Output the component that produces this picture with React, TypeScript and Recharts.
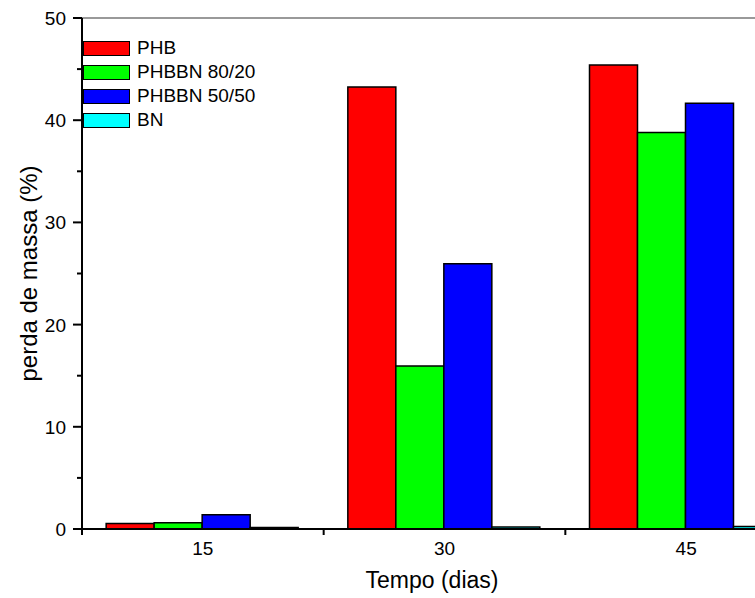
import { Bar, BarChart, Legend, ReferenceLine, XAxis, YAxis } from 'recharts'

const days = ['15', '30', '45']
const phb = [0.53, 43.25, 45.4]
const phbbn8020 = [0.62, 15.95, 38.8]
const phbbn5050 = [1.4, 25.95, 41.65]
const bn = [0.15, 0.2, 0.25]
const yTicks = [0, 5, 10, 15, 20, 25, 30, 35, 40, 45, 50]

const series = [
	{ key: 'phb', name: 'PHB', color: '#FF0000' },
	{ key: 'phbbn8020', name: 'PHBBN 80/20', color: '#00FF00' },
	{ key: 'phbbn5050', name: 'PHBBN 50/50', color: '#0000FF' },
	{ key: 'bn', name: 'BN', color: '#00FFFF' },
]

const data = days.map((d, i) => ({
	dias: d,
	phb: phb[i],
	phbbn8020: phbbn8020[i],
	phbbn5050: phbbn5050[i],
	bn: bn[i],
}))

const FONT = "'Liberation Sans', Arial, sans-serif"
const PLOT_W = 725
const STEP = PLOT_W / days.length

const XTick = (props: any) => {
	const { x, y, payload } = props
	return (
		<g>
			<line x1={x - STEP / 2} y1={y} x2={x - STEP / 2} y2={y + 6} stroke='#000' strokeWidth={2} />
			<text x={x} y={y + 26} textAnchor='middle' fontSize={19} fontFamily={FONT} fill='#000'>
				{payload.value}
			</text>
		</g>
	)
}

const YTick = (props: any) => {
	const { x, y, payload } = props
	const major = payload.value % 10 === 0
	return (
		<g>
			<line x1={x} y1={y} x2={x - (major ? 9 : 5)} y2={y} stroke='#000' strokeWidth={2} />
			{major && (
				<text x={x - 16} y={y + 7} textAnchor='end' fontSize={19} fontFamily={FONT} fill='#000'>
					{payload.value}
				</text>
			)}
		</g>
	)
}

// legend in series order (recharts sorts by name otherwise)
const LegendBox = () => (
	<div style={{ fontFamily: FONT, fontSize: 19, color: '#000' }}>
		{series.map((s) => (
			<div key={s.key} style={{ display: 'flex', alignItems: 'center', height: 24 }}>
				<div
					style={{
						width: 45,
						height: 13,
						background: s.color,
						border: '1.5px solid #000',
						marginRight: 7,
					}}
				/>
				<span>{s.name}</span>
			</div>
		))}
	</div>
)

export default function App() {
	return (
		<div
			style={{
				position: 'absolute',
				left: 0,
				top: 0,
				width: 755,
				height: 598,
				overflow: 'hidden',
				background: '#fff',
			}}
		>
			<BarChart
				width={820}
				height={598}
				data={data}
				margin={{ top: 18, right: 13, left: 0, bottom: 0 }}
				barCategoryGap='10%'
				barGap={0}
			>
				<XAxis
					dataKey='dias'
					height={69}
					axisLine={{ stroke: '#000', strokeWidth: 2 }}
					tickLine={false}
					tickSize={0}
					tickMargin={0}
					tick={<XTick />}
					interval={0}
					label={{
						content: (p: any) => (
							<text x={432} y={p.viewBox.y + 59} textAnchor='middle' fontSize={23} fontFamily={FONT} fill='#000'>
								Tempo (dias)
							</text>
						),
					}}
				/>
				<YAxis
					width={82}
					domain={[0, 50]}
					ticks={yTicks}
					interval={0}
					axisLine={{ stroke: '#000', strokeWidth: 2 }}
					tickLine={false}
					tickSize={0}
					tickMargin={0}
					tick={<YTick />}
					label={{
						content: (p: any) => {
							const cx = 29
							const cy = p.viewBox.y + p.viewBox.height / 2
							return (
								<text
									x={cx}
									y={cy}
									dy='0.35em'
									transform={`rotate(-90 ${cx} ${cy})`}
									textAnchor='middle'
									fontSize={24}
									fontFamily={FONT}
									fill='#000'
								>
									perda de massa (%)
								</text>
							)
						},
					}}
				/>
				<ReferenceLine y={50} stroke='#777' strokeWidth={1.5} />
				<Legend
					layout='vertical'
					align='center'
					verticalAlign='middle'
					content={<LegendBox />}
					wrapperStyle={{ left: 83, top: 36, width: 'auto' }}
				/>
				{series.map((s) => (
					<Bar
						key={s.key}
						dataKey={s.key}
						name={s.name}
						fill={s.color}
						stroke='#000'
						strokeWidth={1.5}
						isAnimationActive={false}
					/>
				))}
			</BarChart>
		</div>
	)
}
